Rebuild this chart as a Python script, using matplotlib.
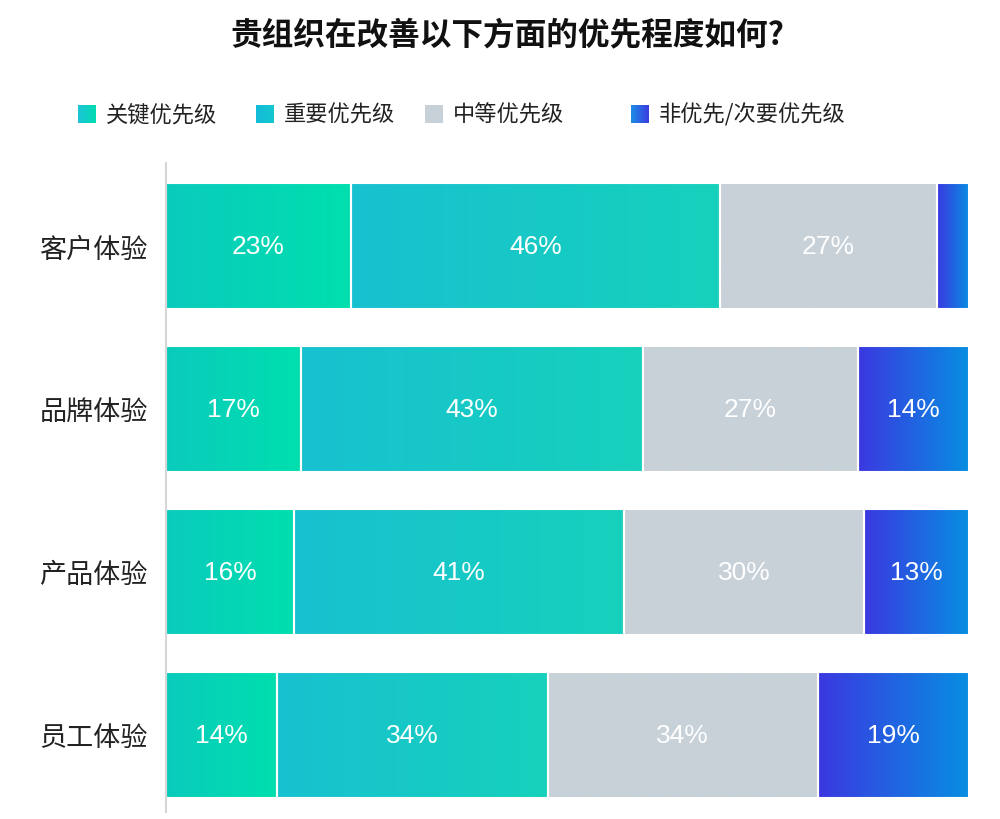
import numpy as np
import matplotlib
matplotlib.use("Agg")
import matplotlib.pyplot as plt
from matplotlib.colors import LinearSegmentedColormap

plt.rcParams['font.family'] = ['Noto Sans CJK SC', 'DejaVu Sans']

# data
categories = ['客户体验', '品牌体验', '产品体验', '员工体验']
series_names = ['关键优先级', '重要优先级', '中等优先级', '非优先/次要优先级']
critical = [23, 17, 16, 14]
important = [46, 43, 41, 34]
moderate = [27, 27, 30, 34]
low = [4, 14, 13, 19]
title = '贵组织在改善以下方面的优先程度如何?'

# gradient colours (left -> right) for each series
grads = [('#0acbbd', '#00dfae'),
         ('#18c1d0', '#16d1bc'),
         ('#c8d1d8', '#c8d1d8'),
         ('#3b38e0', '#078fe2')]
legend_grads = [('#1ec4d8', '#00dcb0'),
                ('#12bcd8', '#16c6d0'),
                ('#c8d1d8', '#c8d1d8'),
                ('#1c8ce6', '#3a3ce0')]

fig = plt.figure(figsize=(10, 8.2), dpi=100)
ax = fig.add_axes([0.166, 0.0085, 0.806, 0.7915])

series = np.array([critical, important, moderate, low], dtype=float)
# each row as a 100% stacked bar
shares = series / series.sum(axis=0) * 100
y = np.arange(len(categories))
left = np.zeros(len(categories))
grad = np.linspace(0, 1, 256).reshape(1, -1)

for i, name in enumerate(series_names):
    cmap = LinearSegmentedColormap.from_list(name, grads[i])
    bars = ax.barh(y, shares[i], left=left, height=0.774, color='none',
                   edgecolor='white', linewidth=1.5, zorder=3)
    for bar, raw, v in zip(bars, series[i], shares[i]):
        x0, y0 = bar.get_x(), bar.get_y()
        w, h = bar.get_width(), bar.get_height()
        im = ax.imshow(grad, cmap=cmap, aspect='auto', zorder=2,
                       extent=(x0, x0 + w, y0 + h, y0), interpolation='bilinear')
        im.set_clip_path(bar)
        if raw >= 5:
            ax.text(x0 + w / 2, y0 + h / 2, f'{int(raw)}%', ha='center', va='center',
                    color='white', fontsize=19, family=['Liberation Sans', 'DejaVu Sans'],
                    zorder=4)
    left += shares[i]

ax.set_xlim(0, 100.4)
ax.set_ylim(3.476, -0.51)
ax.set_yticks(y)
ax.set_yticklabels(categories, fontsize=19.5, color='#222222')
ax.tick_params(axis='y', length=0, pad=13)
ax.set_xticks([])
for s in ['top', 'right', 'bottom']:
    ax.spines[s].set_visible(False)
ax.spines['left'].set_color('#d6d6d6')
ax.spines['left'].set_linewidth(1.5)
ax.spines['left'].set_zorder(5)

fig.text(0.507, 1 - 35 / 820, title, ha='center', va='center', fontsize=22.8,
         fontweight='bold', color='#111111')

# legend, drawn by hand to keep the uneven spacing
leg_x = [78, 256, 425, 631]
for i, name in enumerate(series_names):
    cmap = LinearSegmentedColormap.from_list('l' + name, legend_grads[i])
    lax = fig.add_axes([leg_x[i] / 1000, 1 - 124 / 820, 18 / 1000, 18 / 820])
    lax.imshow(grad, cmap=cmap, aspect='auto')
    lax.axis('off')
    fig.text((leg_x[i] + 28) / 1000, 1 - 115 / 820, name, ha='left', va='center',
             fontsize=16, color='#222222')

fig.savefig('out.png', dpi=100, facecolor='white')
